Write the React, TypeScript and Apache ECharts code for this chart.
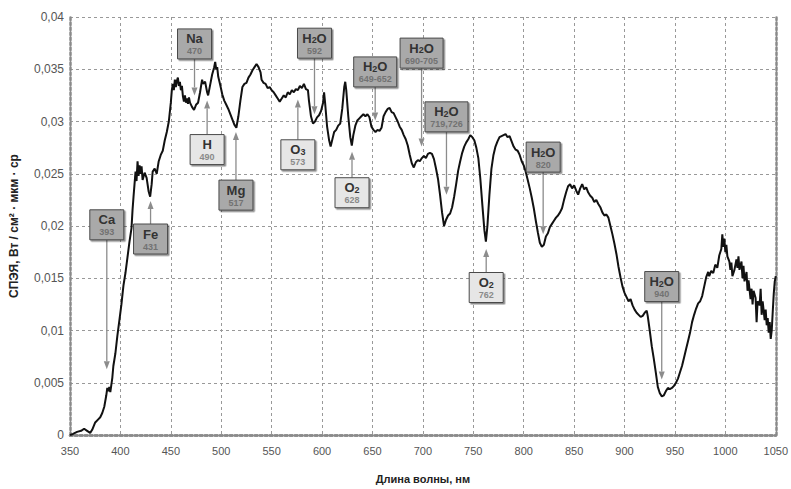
import React, { useEffect, useRef } from "react";
import * as echarts from "echarts";

const wavelengths = [
  350, 353, 357, 361, 364, 367, 370, 372, 375, 378, 380, 382, 384, 386, 387, 388, 389, 390, 392, 393,
  395, 397, 399, 401, 403, 405, 407, 409, 411, 412, 413, 414, 415, 416, 417, 418, 419, 420, 421, 422,
  424, 426, 428, 429.5, 431, 432, 434, 436, 438, 440, 442, 444, 446, 448, 450, 451, 452, 453, 454, 455,
  456, 457, 458, 459, 460, 461, 462, 463, 464, 465, 466, 467, 468, 469, 471, 473, 475, 477, 479, 481,
  482, 484, 486, 487, 489, 491, 493, 494, 495, 496, 497, 499, 501, 503, 505, 507, 509, 511, 513, 515,
  517, 519, 521, 523, 525, 527, 529, 531, 533, 535, 537, 539, 540, 542, 544, 546, 548, 550, 552, 554,
  556, 558, 560, 562, 564, 566, 568, 570, 572, 574, 576, 578, 580, 582, 584, 586, 587, 589, 591, 593,
  595, 597, 599, 601, 602, 603, 605, 607, 608.5, 610, 612, 614, 616, 618, 620, 622, 623, 624, 626, 628,
  629.5, 631, 633, 635, 637, 639, 641, 643, 645, 647, 649, 651, 653, 655, 657, 659, 661, 663, 665, 667,
  669, 671, 673, 675, 677, 679, 681, 683, 685, 687, 689, 691, 693, 695, 697, 699, 701, 703, 705, 707,
  709, 711, 713, 715, 717, 719, 721, 723, 725, 727, 729, 731, 733, 735, 737, 739, 741, 743, 745, 747,
  749, 751, 753, 755, 757, 759, 761, 762.5, 764, 766, 768, 770, 772, 774, 776, 778, 780, 782, 784, 786,
  788, 790, 792, 794, 796, 798, 800, 802, 804, 806, 808, 810, 812, 814, 816, 818, 820, 822, 824, 826,
  828, 830, 832, 834, 836, 838, 840, 842, 844, 846, 848, 850, 852, 854, 856, 858, 860, 862, 864, 866,
  868, 870, 872, 874, 876, 878, 880, 882, 884, 886, 888, 890, 892, 894, 896, 898, 900, 902, 904, 906,
  908, 910, 912, 914, 916, 918, 920, 922, 923, 925, 927, 929, 931, 933, 935, 937, 939, 941, 943, 945,
  947, 949, 951, 953, 955, 957, 959, 961, 963, 965, 967, 969, 971, 973, 975, 977, 979, 981, 983, 984,
  986, 988, 990, 992, 994, 996, 997, 998, 999, 1000, 1001, 1002, 1004, 1005, 1006, 1007, 1009, 1011, 1012, 1013,
  1014, 1016, 1017, 1018, 1019, 1021, 1022, 1023, 1025, 1026, 1027, 1028, 1030, 1031, 1032, 1034, 1035, 1036, 1037, 1039,
  1040, 1041, 1042, 1043, 1044, 1045, 1046, 1047, 1048, 1049, 1050,
];

const radiance = [
  0, 0.0001, 0.0003, 0.0004, 0.0006, 0.0004, 0.0002, 0.0005, 0.0012, 0.0015, 0.0017, 0.0021, 0.0027, 0.0038, 0.0045, 0.0042, 0.0046, 0.0041, 0.0055, 0.0066,
  0.0078, 0.0095, 0.011, 0.0125, 0.0143, 0.0155, 0.017, 0.0185, 0.0198, 0.0215, 0.0228, 0.024, 0.0252, 0.0243, 0.0262, 0.0248, 0.0258, 0.025, 0.0257, 0.0244,
  0.0251, 0.0246, 0.0233, 0.0228, 0.024, 0.0252, 0.0255, 0.025, 0.0262, 0.0268, 0.0272, 0.0282, 0.029, 0.03, 0.0318, 0.033, 0.0336, 0.033, 0.034, 0.0333,
  0.0339, 0.0342, 0.0334, 0.0338, 0.033, 0.0334, 0.0324, 0.0319, 0.0325, 0.0318, 0.0322, 0.0317, 0.0323, 0.0318, 0.0314, 0.0311, 0.0316, 0.0318, 0.0328, 0.034,
  0.0336, 0.0338, 0.0328, 0.0325, 0.0335, 0.0345, 0.0352, 0.0357, 0.035, 0.0352, 0.0343, 0.0335, 0.0326, 0.032, 0.0316, 0.0312, 0.0307, 0.0302, 0.0297, 0.0294,
  0.0305, 0.032, 0.0333, 0.0336, 0.0337, 0.0342, 0.0345, 0.0349, 0.0352, 0.0355, 0.0352, 0.0347, 0.034, 0.0337, 0.0336, 0.0332, 0.0333, 0.033, 0.0328, 0.0325,
  0.0322, 0.0319, 0.0322, 0.0325, 0.0323, 0.0328, 0.0326, 0.033, 0.0328, 0.0331, 0.033, 0.0334, 0.0332, 0.0336, 0.0331, 0.033, 0.032, 0.0305, 0.0298, 0.03,
  0.0304, 0.0306, 0.031, 0.0318, 0.0328, 0.0318, 0.0295, 0.0282, 0.0276, 0.0282, 0.029, 0.0292, 0.0296, 0.0298, 0.0312, 0.0333, 0.0338, 0.033, 0.0305, 0.0285,
  0.0277, 0.0287, 0.0296, 0.0301, 0.0303, 0.0305, 0.0307, 0.0305, 0.0307, 0.0304, 0.0295, 0.0292, 0.029, 0.0292, 0.0291, 0.0294, 0.0305, 0.0309, 0.0312, 0.0313,
  0.0309, 0.0308, 0.0304, 0.03, 0.0295, 0.0292, 0.0287, 0.0283, 0.0277, 0.0268, 0.026, 0.0256, 0.0261, 0.0263, 0.0262, 0.0265, 0.0267, 0.0265, 0.0269, 0.027,
  0.0269, 0.0264, 0.0255, 0.0245, 0.023, 0.0213, 0.02, 0.0206, 0.021, 0.0212, 0.0218, 0.0228, 0.024, 0.0253, 0.0262, 0.027, 0.0276, 0.028, 0.0283, 0.0287,
  0.0285, 0.0282, 0.0275, 0.0265, 0.0245, 0.022, 0.0196, 0.0185, 0.02, 0.023, 0.0255, 0.0268, 0.0276, 0.0281, 0.0285, 0.0286, 0.0287, 0.0288, 0.0285, 0.0286,
  0.0281, 0.0276, 0.0273, 0.0272, 0.0268, 0.0262, 0.0258, 0.0252, 0.0244, 0.0236, 0.0227, 0.0217, 0.0205, 0.0194, 0.0184, 0.018, 0.0182, 0.019, 0.0193, 0.0199,
  0.0202, 0.0205, 0.0208, 0.021, 0.0213, 0.0217, 0.0225, 0.0232, 0.0238, 0.024, 0.0236, 0.0239, 0.0234, 0.023, 0.0236, 0.024, 0.0235, 0.0237, 0.0232, 0.0229,
  0.0227, 0.0223, 0.0225, 0.0221, 0.0218, 0.0213, 0.021, 0.0211, 0.0208, 0.02, 0.0192, 0.0183, 0.0173, 0.0161, 0.0151, 0.0142, 0.0136, 0.0132, 0.0128, 0.013,
  0.0124, 0.012, 0.0117, 0.0115, 0.0113, 0.0114, 0.0117, 0.0119, 0.0114, 0.01, 0.0085, 0.0073, 0.006, 0.0046, 0.004, 0.0037, 0.0038, 0.0042, 0.0045, 0.0044,
  0.0045, 0.0047, 0.005, 0.0054, 0.006, 0.0066, 0.0074, 0.0082, 0.009, 0.0098, 0.0108, 0.0115, 0.0121, 0.0126, 0.0128, 0.0133, 0.0142, 0.0151, 0.0156, 0.0152,
  0.0157, 0.0155, 0.0163, 0.016, 0.0172, 0.0178, 0.0192, 0.018, 0.0188, 0.0175, 0.0182, 0.0171, 0.0166, 0.0158, 0.0165, 0.0152, 0.0158, 0.0168, 0.016, 0.0171,
  0.0158, 0.0166, 0.015, 0.0162, 0.0147, 0.0156, 0.0138, 0.0148, 0.013, 0.014, 0.0125, 0.0138, 0.0131, 0.0108, 0.0128, 0.0124, 0.014, 0.0115, 0.0128, 0.011,
  0.012, 0.0105, 0.0112, 0.0098, 0.0108, 0.0092, 0.01, 0.0118, 0.0135, 0.0147, 0.0152,
];

const xTicks = { min: 350, max: 1050, step: 50 };
const yTicks = { min: 0, max: 0.04, step: 0.005 };

// Annotations: element, band label, wavelength of arrow, curve value at arrow tip, value at box top, light box?
const annNames = ["Ca", "Fe", "Na", "H", "Mg", "O3", "H2O", "O2", "H2O", "H2O", "H2O", "O2", "H2O", "H2O"];
const annCodes = ["393", "431", "470", "490", "517", "573", "592", "628", "649-652", "690-705", "719,726", "762", "820", "940"];
const annArrowX = [386.5, 429.9, 473.5, 486, 514.6, 576, 592.5, 629.7, 652.7, 698.7, 723.4, 762.8, 819.3, 936.9];
const annTip = [0.0063, 0.0224, 0.0325, 0.032, 0.029, 0.0321, 0.0307, 0.0271, 0.0301, 0.0276, 0.023, 0.0178, 0.0192, 0.0053];
const annBoxTop = [0.02155, 0.02019, 0.03886, 0.02875, 0.02439, 0.02825, 0.03893, 0.02462, 0.03618, 0.03798, 0.03188, 0.01555, 0.02803, 0.01564];
const annLight = [false, false, false, true, false, true, false, true, false, false, false, true, false, false];

const FONT = "'Liberation Sans', Arial, Helvetica, sans-serif";

function formulaRich(name: string) {
  return name
    .split(/(\d+)/)
    .filter((t) => t.length > 0)
    .map((t) => (/^\d+$/.test(t) ? `{s|${t}}` : `{m|${t}}`))
    .join("");
}

export default function App() {
  const ref = useRef<HTMLDivElement>(null);
  useEffect(() => {
    if (!ref.current) return;
    const chart = echarts.init(ref.current, undefined, { renderer: "svg" });
    const lineData = wavelengths.map((w, i) => [w, radiance[i]]);
    const annData = annArrowX.map((x, i) => [x, annTip[i], annBoxTop[i], i]);
    const fmtY = (v: number) => (v === 0 ? "0" : String(Number(v.toFixed(3))).replace(".", ","));

    const frameLine = { show: true, lineStyle: { color: "#8a8a8a", width: 2.5, type: "dotted" as const } };
    const gridLine = { show: true, lineStyle: { color: "#999", width: 1, type: [3, 3] as any } };

    chart.setOption({
      animation: false,
      backgroundColor: "#fff",
      grid: { left: 68, right: 13, top: 17, bottom: 50 },
      xAxis: [
        {
          type: "value",
          min: xTicks.min,
          max: xTicks.max,
          interval: xTicks.step,
          axisLine: frameLine,
          axisTick: { show: false },
          splitLine: gridLine,
          axisLabel: { color: "#555", fontSize: 11, fontFamily: FONT, margin: 10, formatter: (v: number) => String(v) },
          name: "Длина волны, нм",
          nameLocation: "middle",
          nameGap: 38,
          nameTextStyle: { color: "#222", fontSize: 11, fontWeight: "bold", fontFamily: FONT },
        },
        {
          type: "value",
          position: "top",
          min: xTicks.min,
          max: xTicks.max,
          interval: xTicks.step,
          axisLine: frameLine,
          axisTick: { show: false },
          axisLabel: { show: false },
          splitLine: { show: false },
        },
      ],
      yAxis: [
        {
          type: "value",
          min: yTicks.min,
          max: yTicks.max,
          interval: yTicks.step,
          axisLine: frameLine,
          axisTick: { show: false },
          splitLine: gridLine,
          axisLabel: { color: "#555", fontSize: 12, fontFamily: FONT, margin: 6, formatter: fmtY },
          name: "СПЭЯ, Вт / см² · мкм · ср",
          nameLocation: "middle",
          nameGap: 50,
          nameTextStyle: { color: "#222", fontSize: 12, fontWeight: "bold", fontFamily: FONT },
        },
        {
          type: "value",
          position: "right",
          min: yTicks.min,
          max: yTicks.max,
          interval: yTicks.step,
          axisLine: frameLine,
          axisTick: { show: false },
          axisLabel: { show: false },
          splitLine: { show: false },
        },
      ],
      series: [
        {
          type: "line",
          data: lineData,
          showSymbol: false,
          symbol: "none",
          lineStyle: { color: "#111", width: 2 },
          z: 3,
        },
        {
          type: "custom",
          data: annData,
          clip: false,
          z: 5,
          renderItem: (params: any, api: any) => {
            const i = api.value(3);
            const tip = api.coord([api.value(0), api.value(1)]);
            const top = api.coord([api.value(0), api.value(2)])[1];
            const code = annCodes[i];
            const w = code.length > 3 ? 43 : 34;
            const h = 30;
            const cx = tip[0];
            const boxAbove = top + h < tip[1];
            const start = boxAbove ? top + h : top;
            const dir = boxAbove ? 1 : -1;
            const baseY = tip[1] - dir * 8;
            const light = annLight[i];
            const color = "#333";
            return {
              type: "group",
              children: [
                {
                  type: "line",
                  shape: { x1: cx, y1: start, x2: cx, y2: baseY },
                  style: { stroke: "#8c8c8c", lineWidth: 1.3 },
                },
                {
                  type: "polygon",
                  shape: { points: [[cx, tip[1]], [cx - 3, baseY], [cx + 3, baseY]] },
                  style: { fill: "#8c8c8c" },
                },
                {
                  type: "rect",
                  shape: { x: cx - w / 2, y: top, width: w, height: h },
                  style: {
                    fill: light ? "#e6e6e6" : "#a9a9a9",
                    stroke: "#4a4a4a",
                    lineWidth: 1,
                    shadowColor: "rgba(0,0,0,0.45)",
                    shadowOffsetX: 1.5,
                    shadowOffsetY: 1.5,
                    shadowBlur: 1,
                  },
                },
                {
                  type: "text",
                  x: cx,
                  y: top + 10,
                  style: {
                    text: formulaRich(annNames[i]),
                    align: "center",
                    verticalAlign: "middle",
                    rich: {
                      m: { fontSize: 13, fontWeight: "bold", fontFamily: FONT, fill: color, color },
                      s: { fontSize: 9, fontWeight: "bold", fontFamily: FONT, fill: color, color, verticalAlign: "bottom", padding: [4, 0, 0, 0] },
                    },
                  },
                },
                {
                  type: "text",
                  x: cx,
                  y: top + 22.5,
                  style: {
                    text: code,
                    align: "center",
                    verticalAlign: "middle",
                    fontSize: 9,
                    fontWeight: "bold",
                    fontFamily: FONT,
                    fill: light ? "#8a8a8a" : "#727272",
                  },
                },
              ],
            };
          },
        },
      ],
    });
    return () => chart.dispose();
  }, []);
  return <div ref={ref} style={{ position: "fixed", left: 0, top: 0, width: 791, height: 489 }} />;
}
